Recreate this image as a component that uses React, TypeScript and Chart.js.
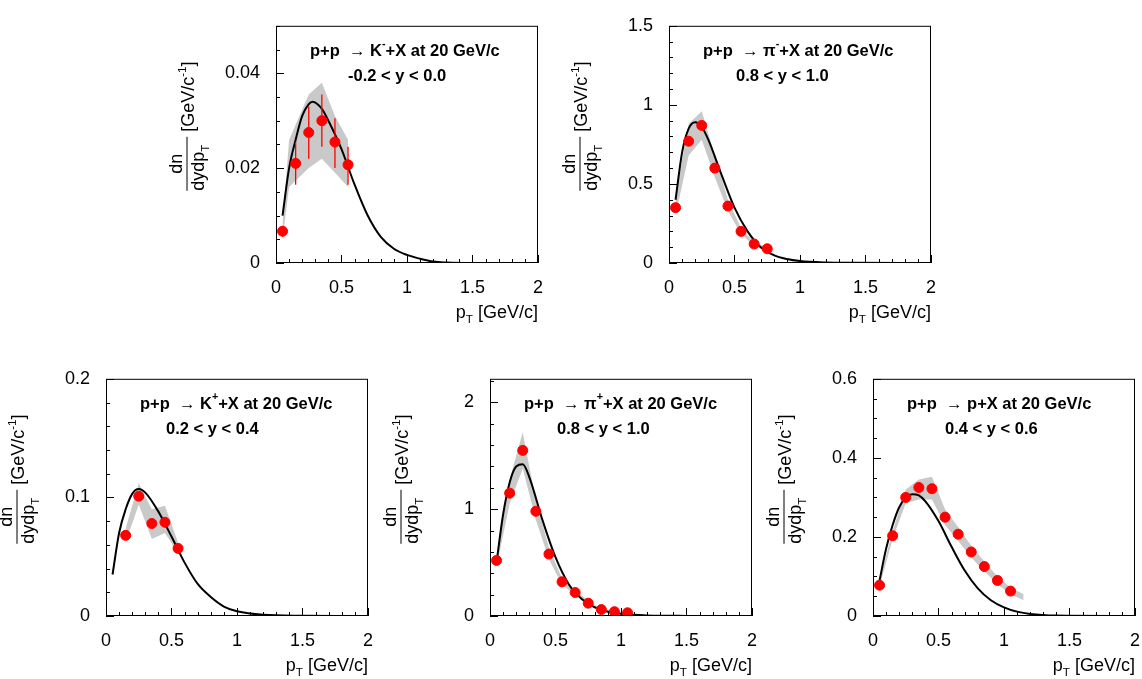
import React, { useEffect, useRef } from "react";
import { Chart, registerables } from "chart.js";
Chart.register(...registerables);

// ---------- data ----------
const km_x = [0.05, 0.15, 0.25, 0.35, 0.45, 0.55];
const km_y = [0.0067, 0.021, 0.0275, 0.030, 0.0255, 0.0207];
const km_errLo = [0.0055, 0.0165, 0.022, 0.0245, 0.020, 0.0165];
const km_errHi = [0.0078, 0.0255, 0.033, 0.0355, 0.0305, 0.0245];
const km_bandX = [0.05, 0.1, 0.25, 0.35, 0.45, 0.55];
const km_bandLo = [0.005, 0.016, 0.020, 0.022, 0.019, 0.016];
const km_bandHi = [0.0085, 0.026, 0.0355, 0.038, 0.031, 0.026];
const km_cx = [0.05, 0.1, 0.15, 0.2, 0.25, 0.28, 0.35, 0.4, 0.5, 0.6, 0.7, 0.8, 0.9, 1.0, 1.1, 1.2, 1.3, 1.5, 1.95];
const km_cy = [0.010, 0.020, 0.026, 0.031, 0.0335, 0.034, 0.0325, 0.030, 0.024, 0.0165, 0.010, 0.0055, 0.003, 0.0017, 0.0009, 0.0003, 0.0001, 0, 0];

const pim_x = [0.05, 0.15, 0.25, 0.35, 0.45, 0.55, 0.65, 0.75];
const pim_y = [0.35, 0.77, 0.87, 0.60, 0.36, 0.20, 0.12, 0.09];
const pim_bandX = [0.05, 0.15, 0.25, 0.35, 0.45, 0.55, 0.65, 0.75];
const pim_bandLo = [0.30, 0.68, 0.78, 0.54, 0.33, 0.18, 0.11, 0.08];
const pim_bandHi = [0.42, 0.88, 0.96, 0.68, 0.40, 0.22, 0.13, 0.10];
const pim_cx = [0.05, 0.1, 0.15, 0.2, 0.25, 0.3, 0.4, 0.5, 0.6, 0.7, 0.8, 0.9, 1.0, 1.2, 1.4, 1.95];
const pim_cy = [0.40, 0.70, 0.85, 0.89, 0.86, 0.78, 0.56, 0.35, 0.20, 0.10, 0.05, 0.025, 0.012, 0.003, 0.001, 0];

const kp_x = [0.15, 0.25, 0.35, 0.45, 0.55];
const kp_y = [0.068, 0.101, 0.078, 0.079, 0.057];
const kp_bandX = [0.15, 0.25, 0.35, 0.45, 0.55];
const kp_bandLo = [0.062, 0.094, 0.065, 0.070, 0.053];
const kp_bandHi = [0.074, 0.112, 0.090, 0.093, 0.062];
const kp_cx = [0.05, 0.1, 0.15, 0.2, 0.25, 0.3, 0.4, 0.5, 0.6, 0.7, 0.8, 0.9, 1.0, 1.2, 1.5, 1.9];
const kp_cy = [0.035, 0.070, 0.090, 0.103, 0.107, 0.104, 0.088, 0.067, 0.045, 0.027, 0.016, 0.008, 0.004, 0.001, 0.0002, 0];

const pip_x = [0.05, 0.15, 0.25, 0.35, 0.45, 0.55, 0.65, 0.75, 0.85, 0.95, 1.05];
const pip_y = [0.52, 1.15, 1.55, 0.98, 0.58, 0.32, 0.22, 0.12, 0.06, 0.04, 0.03];
const pip_bandLo = [0.46, 1.05, 1.38, 0.90, 0.53, 0.29, 0.20, 0.11, 0.05, 0.035, 0.025];
const pip_bandHi = [0.58, 1.28, 1.72, 1.08, 0.64, 0.35, 0.24, 0.14, 0.07, 0.05, 0.035];
const pip_cx = [0.05, 0.1, 0.15, 0.2, 0.25, 0.3, 0.4, 0.5, 0.6, 0.7, 0.8, 0.9, 1.0, 1.2, 1.5, 1.95];
const pip_cy = [0.50, 0.95, 1.25, 1.40, 1.42, 1.30, 0.90, 0.55, 0.30, 0.16, 0.08, 0.04, 0.02, 0.005, 0.001, 0];

const p_x = [0.05, 0.15, 0.25, 0.35, 0.45, 0.55, 0.65, 0.75, 0.85, 0.95, 1.05];
const p_y = [0.078, 0.203, 0.300, 0.325, 0.322, 0.250, 0.207, 0.162, 0.125, 0.090, 0.063];
const p_bandX = [0.05, 0.15, 0.25, 0.35, 0.45, 0.55, 0.65, 0.75, 0.85, 0.95, 1.05, 1.15];
const p_bandLo = [0.075, 0.195, 0.285, 0.295, 0.295, 0.230, 0.190, 0.148, 0.113, 0.080, 0.055, 0.040];
const p_bandHi = [0.090, 0.215, 0.320, 0.345, 0.352, 0.270, 0.225, 0.178, 0.138, 0.100, 0.072, 0.055];
const p_cx = [0.05, 0.1, 0.15, 0.2, 0.25, 0.3, 0.35, 0.4, 0.5, 0.6, 0.7, 0.8, 0.9, 1.0, 1.1, 1.2, 1.4, 1.95];
const p_cy = [0.09, 0.17, 0.23, 0.275, 0.30, 0.308, 0.305, 0.29, 0.24, 0.175, 0.115, 0.07, 0.04, 0.022, 0.011, 0.005, 0.001, 0];

const xTicks = [0, 0.5, 1, 1.5, 2];

type Seg = { t: string; s?: "sup" | "sub" };
type Panel = {
  left: number; top: number;
  ymax: number; yMajor: number; yMinor: number; yTicks: number[];
  px: number[]; py: number[]; errLo?: number[]; errHi?: number[];
  bx: number[]; blo: number[]; bhi: number[];
  cx: number[]; cy: number[];
  line1: Seg[]; line2: string; l2off: number;
};

const panels: Panel[] = [
  { left: 276, top: 17, ymax: 0.05, yMajor: 0.02, yMinor: 0.005, yTicks: [0, 0.02, 0.04],
    px: km_x, py: km_y, errLo: km_errLo, errHi: km_errHi, bx: km_bandX, blo: km_bandLo, bhi: km_bandHi, cx: km_cx, cy: km_cy,
    line1: [{ t: "p+p  \u2192 K" }, { t: "-", s: "sup" }, { t: "+X at 20 GeV/c" }], line2: "-0.2 < y < 0.0", l2off: 72 },
  { left: 669, top: 17, ymax: 1.5, yMajor: 0.5, yMinor: 0.1, yTicks: [0, 0.5, 1, 1.5],
    px: pim_x, py: pim_y, bx: pim_bandX, blo: pim_bandLo, bhi: pim_bandHi, cx: pim_cx, cy: pim_cy,
    line1: [{ t: "p+p  \u2192 \u03c0" }, { t: "-", s: "sup" }, { t: "+X at 20 GeV/c" }], line2: "0.8 < y < 1.0", l2off: 67 },
  { left: 106, top: 370, ymax: 0.2, yMajor: 0.1, yMinor: 0.02, yTicks: [0, 0.1, 0.2],
    px: kp_x, py: kp_y, bx: kp_bandX, blo: kp_bandLo, bhi: kp_bandHi, cx: kp_cx, cy: kp_cy,
    line1: [{ t: "p+p  \u2192 K" }, { t: "+", s: "sup" }, { t: "+X at 20 GeV/c" }], line2: "0.2 < y < 0.4", l2off: 60 },
  { left: 490, top: 370, ymax: 2.22, yMajor: 1, yMinor: 0.2, yTicks: [0, 1, 2],
    px: pip_x, py: pip_y, bx: pip_x, blo: pip_bandLo, bhi: pip_bandHi, cx: pip_cx, cy: pip_cy,
    line1: [{ t: "p+p  \u2192 \u03c0" }, { t: "+", s: "sup" }, { t: "+X at 20 GeV/c" }], line2: "0.8 < y < 1.0", l2off: 67 },
  { left: 873, top: 370, ymax: 0.6, yMajor: 0.2, yMinor: 0.05, yTicks: [0, 0.2, 0.4, 0.6],
    px: p_x, py: p_y, bx: p_bandX, blo: p_bandLo, bhi: p_bandHi, cx: p_cx, cy: p_cy,
    line1: [{ t: "p+p  \u2192 p+X at 20 GeV/c" }], line2: "0.4 < y < 0.6", l2off: 72 },
];

const PW = 263, PH = 246, PADL = 110, PADT = 10, PADR = 10, PADB = 70;
const FONT = "'Liberation Sans', Arial, sans-serif";
const TFS = 16.5;

function drawRich(ctx: CanvasRenderingContext2D, x: number, y: number, segs: Seg[], size: number, bold: boolean) {
  let cx = x;
  for (const s of segs) {
    const fs = s.s ? size * 0.65 : size;
    ctx.font = `${bold ? "bold " : ""}${fs}px ${FONT}`;
    const dy = s.s === "sup" ? -size * 0.45 : s.s === "sub" ? size * 0.3 : 0;
    ctx.fillText(s.t, cx, y + dy);
    cx += ctx.measureText(s.t).width;
  }
  return cx - x;
}

function PanelChart({ p }: { p: Panel }) {
  const ref = useRef<HTMLCanvasElement>(null);
  useEffect(() => {
    const decor = {
      id: "decor",
      afterDatasetsDraw(chart: any) {
        const ctx = chart.ctx as CanvasRenderingContext2D;
        const xs = chart.scales.x, ys = chart.scales.y;
        const a = chart.chartArea;
        ctx.save();
        if (p.errLo && p.errHi) {
          ctx.strokeStyle = "#ff0000"; ctx.lineWidth = 1.3;
          p.px.forEach((x, i) => {
            ctx.beginPath();
            ctx.moveTo(xs.getPixelForValue(x), ys.getPixelForValue(p.errLo![i]));
            ctx.lineTo(xs.getPixelForValue(x), ys.getPixelForValue(p.errHi![i]));
            ctx.stroke();
          });
        }
        ctx.strokeStyle = "#000"; ctx.lineWidth = 1;
        ctx.strokeRect(a.left + 0.5, a.top + 0.5, a.right - a.left - 1, a.bottom - a.top - 1);
        ctx.beginPath();
        for (let v = 0; v <= 2.0001; v += 0.1) {
          const X = Math.round(xs.getPixelForValue(v)) + 0.5;
          const major = Math.abs(v / 0.5 - Math.round(v / 0.5)) < 1e-6;
          ctx.moveTo(X, a.bottom); ctx.lineTo(X, a.bottom - (major ? 8 : 4));
        }
        for (let v = 0; v <= p.ymax + 1e-9; v += p.yMinor) {
          const Y = Math.round(ys.getPixelForValue(v)) + 0.5;
          const major = Math.abs(v / p.yMajor - Math.round(v / p.yMajor)) < 1e-6;
          ctx.moveTo(a.left, Y); ctx.lineTo(a.left + (major ? 8 : 4), Y);
        }
        ctx.stroke();
        ctx.fillStyle = "#000"; ctx.textBaseline = "middle"; ctx.textAlign = "left";
        drawRich(ctx, a.left + 34, a.top + 26, p.line1, TFS, true);
        ctx.font = `bold ${TFS}px ${FONT}`;
        ctx.fillText(p.line2, a.left + p.l2off, a.top + 51);
        ctx.textBaseline = "alphabetic";
        const xsegs: Seg[] = [{ t: "p" }, { t: "T", s: "sub" }, { t: " [GeV/c]" }];
        let w = 0;
        for (const s of xsegs) { ctx.font = `${s.s ? 18 * 0.65 : 18}px ${FONT}`; w += ctx.measureText(s.t).width; }
        drawRich(ctx, a.right - w, a.bottom + 55, xsegs, 18, false);
        ctx.translate(a.left - 90, a.top + 138);
        ctx.rotate(-Math.PI / 2);
        ctx.textAlign = "center"; ctx.textBaseline = "alphabetic";
        ctx.font = `18px ${FONT}`;
        ctx.fillText("dn", 0, -4);
        ctx.beginPath(); ctx.moveTo(-27, 1); ctx.lineTo(27, 1); ctx.lineWidth = 1; ctx.stroke();
        ctx.textAlign = "left";
        drawRich(ctx, -27, 18, [{ t: "dydp" }, { t: "T", s: "sub" }], 18, false);
        drawRich(ctx, 32, 8, [{ t: "[GeV/c" }, { t: "-1", s: "sup" }, { t: "]" }], 18, false);
        ctx.restore();
      },
    };
    const chart = new Chart(ref.current!, {
      type: "line",
      data: {
        datasets: [
          { data: p.bx.map((x, i) => ({ x, y: p.blo[i] })), borderWidth: 0, pointRadius: 0, fill: false, borderColor: "rgba(0,0,0,0)", order: 3 },
          { data: p.bx.map((x, i) => ({ x, y: p.bhi[i] })), borderWidth: 0, pointRadius: 0, fill: "-1", backgroundColor: "#c9c9c9", borderColor: "rgba(0,0,0,0)", order: 3 },
          { data: p.cx.map((x, i) => ({ x, y: p.cy[i] })), borderColor: "#000", borderWidth: 2, pointRadius: 0, tension: 0.4, cubicInterpolationMode: "monotone", fill: false, order: 2 },
          { data: p.px.map((x, i) => ({ x, y: p.py[i] })), showLine: false, pointRadius: 5, pointBackgroundColor: "#ff0000", pointBorderColor: "#ff0000", order: 1 },
        ] as any,
      },
      options: {
        animation: false, responsive: false, maintainAspectRatio: false,
        layout: { padding: { top: PADT, right: PADR, left: 0, bottom: 0 } },
        plugins: { legend: { display: false }, tooltip: { enabled: false } },
        scales: {
          x: {
            type: "linear", min: 0, max: 2,
            grid: { display: false }, border: { display: false },
            afterBuildTicks: (s: any) => { s.ticks = xTicks.map((v) => ({ value: v })); },
            afterFit: (s: any) => { s.height = PADB; },
            ticks: { padding: 6, maxRotation: 0, color: "#000", font: { family: FONT, size: 18 }, callback: (v: any) => String(v) },
          },
          y: {
            type: "linear", min: 0, max: p.ymax,
            grid: { display: false }, border: { display: false },
            afterBuildTicks: (s: any) => { s.ticks = p.yTicks.map((v) => ({ value: v })); },
            afterFit: (s: any) => { s.width = PADL; },
            ticks: { padding: 8, color: "#000", font: { family: FONT, size: 18 }, callback: (v: any) => String(+Number(v).toFixed(3)) },
          },
        },
      } as any,
      plugins: [decor],
    });
    return () => chart.destroy();
  }, []);
  return (
    <canvas ref={ref} width={PADL + PW + PADR} height={PADT + PH + PADB}
      style={{ position: "absolute", left: p.left - PADL, top: p.top - PADT, width: PADL + PW + PADR, height: PADT + PH + PADB }} />
  );
}

export default function App() {
  return (
    <div style={{ position: "fixed", left: 0, top: 0, width: 1142, height: 679, background: "#fff", overflow: "hidden" }}>
      {panels.map((p, i) => <PanelChart key={i} p={p} />)}
    </div>
  );
}
